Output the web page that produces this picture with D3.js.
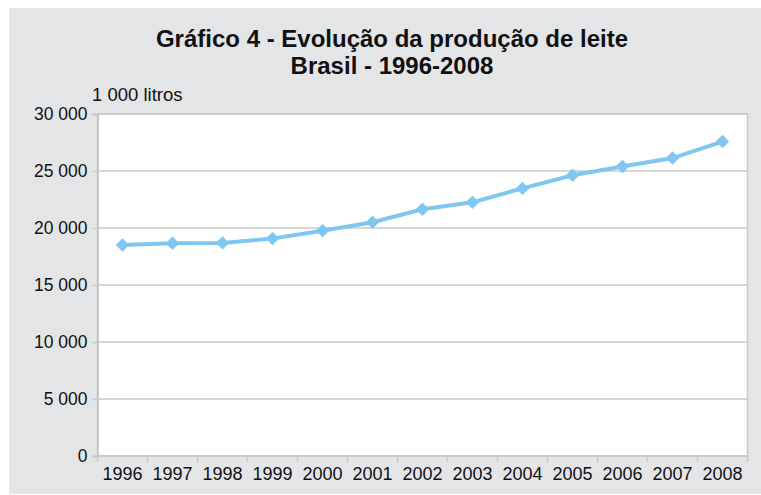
<!DOCTYPE html>
<html>
<head>
<meta charset="utf-8">
<script src="https://cdn.jsdelivr.net/npm/d3@7"></script>
<style>
body { margin: 0; background: #fff; }
text { font-family: "Liberation Sans", Arial, sans-serif; fill: #111; }
</style>
</head>
<body>
<div id="vizDiv"></div>
<script>
var width = 761;
var height = 495;

// data (1 000 litros)
var years = ["1996", "1997", "1998", "1999", "2000", "2001", "2002", "2003", "2004", "2005", "2006", "2007", "2008"];
var production = [18515, 18666, 18694, 19070, 19767, 20510, 21643, 22254, 23475, 24621, 25398, 26134, 27585];
var yTicks = [0, 5000, 10000, 15000, 20000, 25000, 30000];
var titleLines = ["Gráfico 4 - Evolução da produção de leite", "Brasil - 1996-2008"];
var unitLabel = "1 000 litros";

var margin = {left: 97.5, right: 13.5, top: 114, bottom: 39};

var svg = d3.select("#vizDiv")
    .append("svg")
    .attr("width", width)
    .attr("height", height)

// grey panel
svg.append("rect")
    .attr("x", 9)
    .attr("y", 8)
    .attr("width", width - 9)
    .attr("height", 486)
    .attr("fill", "#e4e5e7")

var x = d3.scaleBand()
    .domain(years)
    .range([margin.left, width - margin.right])

var y = d3.scaleLinear()
    .domain([0, 30000])
    .range([height - margin.bottom, margin.top])

// plot area
svg.append("rect")
    .attr("x", margin.left)
    .attr("y", margin.top)
    .attr("width", width - margin.right - margin.left)
    .attr("height", height - margin.bottom - margin.top)
    .attr("fill", "#fff")
    .attr("stroke", "#c8c8c8")
    .attr("stroke-width", 1.5)

// gridlines
svg.append("g")
    .selectAll("line")
    .data(yTicks)
    .enter()
    .append("line")
    .attr("x1", margin.left)
    .attr("x2", width - margin.right)
    .attr("y1", function(d) { return y(d); })
    .attr("y2", function(d) { return y(d); })
    .attr("stroke", "#c8c8c8")
    .attr("stroke-width", 1.5)

var fmt = function(d) { return d3.format(",")(d).replace(/,/g, " "); };

var yAxis = svg.append("g")
    .attr("transform", "translate(" + margin.left + ",0)")
    .call(d3.axisLeft(y).tickValues(yTicks).tickSize(5).tickPadding(5).tickFormat(fmt))
yAxis.select(".domain").attr("stroke", "#c8c8c8").attr("stroke-width", 2)
yAxis.selectAll(".tick line").attr("stroke", "#c8c8c8").attr("stroke-width", 1.5)
yAxis.selectAll("text")
    .style("font-size", "17.5px")
    .style("font-family", "Liberation Sans, Arial, sans-serif")
    .attr("fill", "#111")

// x axis: ticks sit on the category boundaries
var xAxis = svg.append("g")
    .attr("transform", "translate(0," + (height - margin.bottom) + ")")
xAxis.append("line")
    .attr("x1", margin.left)
    .attr("x2", width - margin.right)
    .attr("stroke", "#c8c8c8")
    .attr("stroke-width", 2)
var bounds = years.map(function(d) { return x(d); }).concat([x(years[years.length - 1]) + x.bandwidth()]);
xAxis.selectAll(".bt")
    .data(bounds)
    .enter()
    .append("line")
    .attr("x1", function(d) { return d; })
    .attr("x2", function(d) { return d; })
    .attr("y1", 0)
    .attr("y2", 6)
    .attr("stroke", "#c8c8c8")
    .attr("stroke-width", 1.5)
xAxis.selectAll(".lbl")
    .data(years)
    .enter()
    .append("text")
    .attr("x", function(d) { return x(d) + x.bandwidth() / 2; })
    .attr("y", 24)
    .attr("text-anchor", "middle")
    .style("font-size", "18px")
    .text(function(d) { return d; })

// line
var line = d3.line()
    .x(function(d, i) { return x(years[i]) + x.bandwidth() / 2; })
    .y(function(d) { return y(d); })

svg.append("path")
    .datum(production)
    .attr("d", line)
    .attr("fill", "none")
    .attr("stroke", "#7fc6f0")
    .attr("stroke-width", 4)

svg.append("g")
    .selectAll("path")
    .data(production)
    .enter()
    .append("path")
    .attr("d", d3.symbol().type(d3.symbolDiamond2).size(115))
    .attr("transform", function(d, i) { return "translate(" + (x(years[i]) + x.bandwidth() / 2) + "," + y(d) + ")"; })
    .attr("fill", "#7fc6f0")

// title
svg.selectAll(".title")
    .data(titleLines)
    .enter()
    .append("text")
    .attr("x", 392)
    .attr("y", function(d, i) { return 47 + i * 27; })
    .attr("text-anchor", "middle")
    .style("font-size", "24px")
    .style("font-weight", "bold")
    .text(function(d) { return d; })

svg.append("text")
    .attr("x", 92)
    .attr("y", 101)
    .style("font-size", "18.5px")
    .text(unitLabel)
</script>
</body>
</html>
